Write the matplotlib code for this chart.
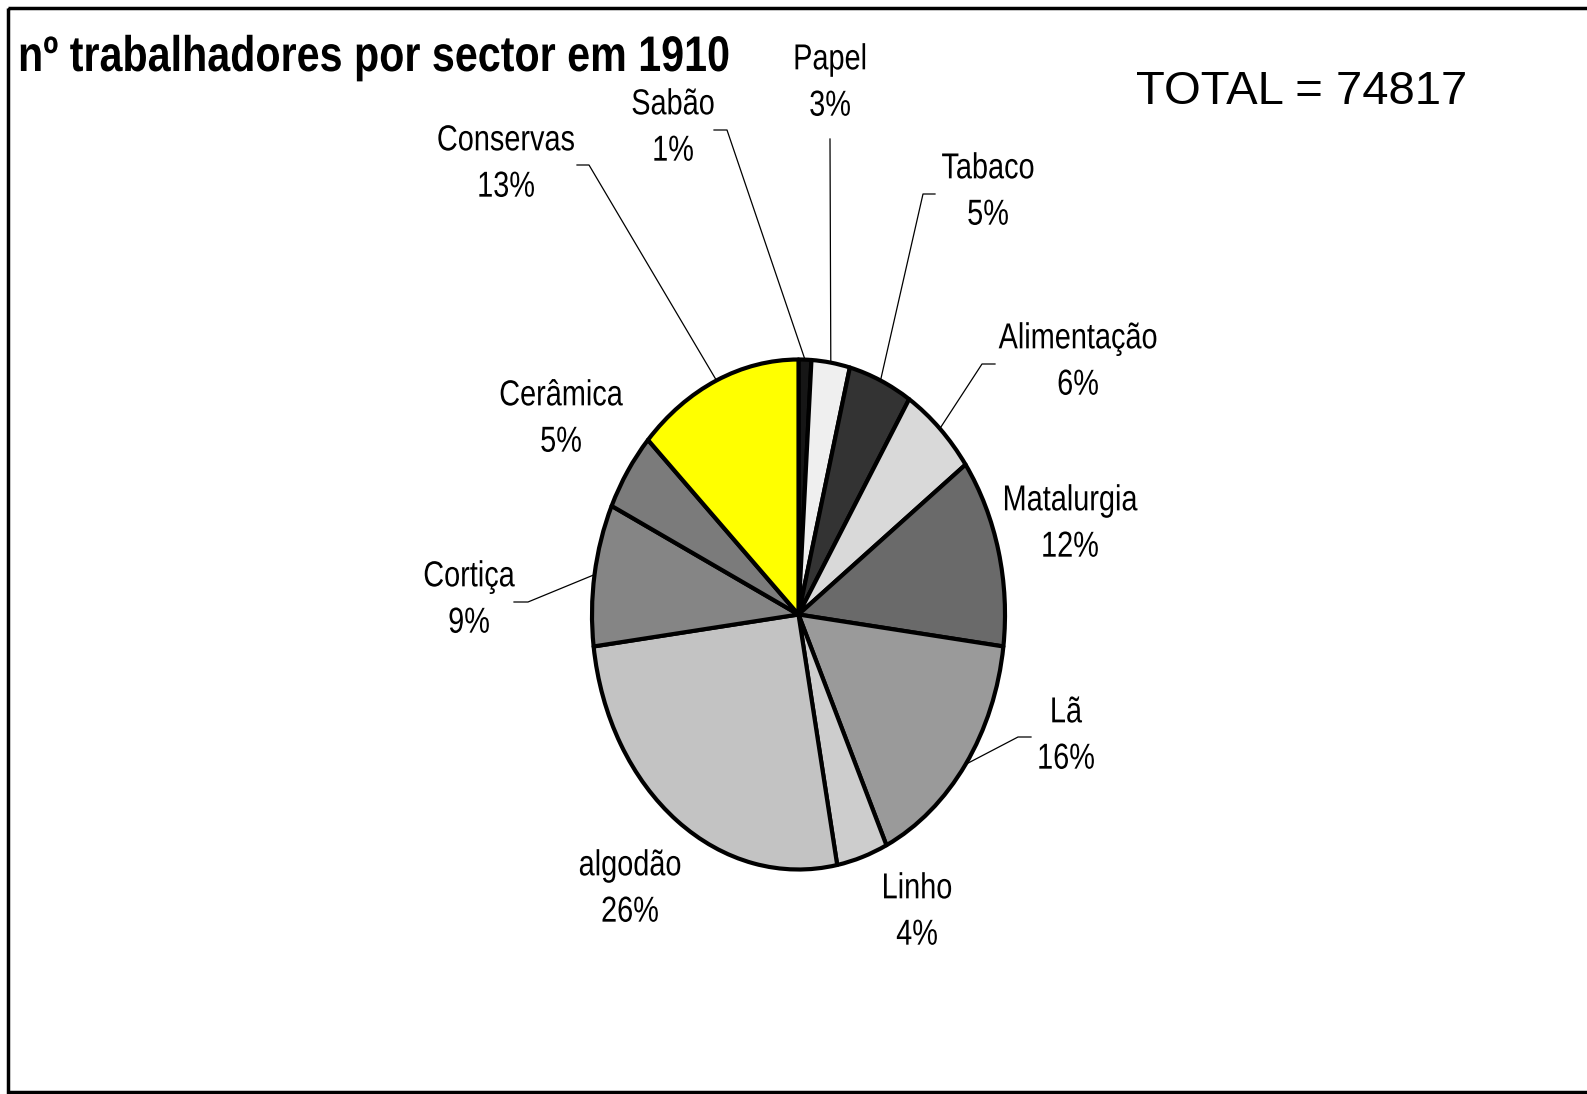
import numpy as np
import matplotlib
matplotlib.use("Agg")
import matplotlib.pyplot as plt
from matplotlib.lines import Line2D
from matplotlib.patches import Rectangle
from matplotlib.patheffects import AbstractPathEffect
from matplotlib.transforms import Affine2D

# Workers per industrial sector, 1910 (percent of total)
sectors = ["Sabão", "Papel", "Tabaco", "Alimentação", "Matalurgia", "Lã",
           "Linho", "algodão", "Cortiça", "Cerâmica", "Conservas"]
shares = [1, 3, 5, 6, 12, 16, 4, 26, 9, 5, 13]
total_workers = 74817
title = "nº trabalhadores por sector em 1910"

colors = ["#161616", "#efefef", "#333333", "#d9d9d9", "#6a6a6a", "#9a9a9a",
          "#cdcdcd", "#c3c3c3", "#858585", "#7b7b7b", "#ffff00"]

# label anchor (pixel coords, y down) and leader line start / knee
label_pos = [(673, 128), (830, 83), (988, 192), (1078, 362), (1070, 524),
             (1066, 736), (917, 912), (630, 889), (469, 600), (561, 419),
             (506, 164)]
leader_start = [(714, 130), (830, 139), (935, 194), (995, 364), None,
                (1031, 737), None, None, (514, 602), None, (577, 165)]
leader_knee = [(727, 130), None, (923, 194), (982, 364), None,
               (1018, 737), None, None, (528, 602), None, (589, 165)]


class Condensed(AbstractPathEffect):
    """Draw text glyphs squeezed horizontally about a fixed x (display px)."""

    def __init__(self, sx, x0):
        super().__init__()
        self.sx = sx
        self.x0 = x0

    def draw_path(self, renderer, gc, tpath, affine, rgbFace=None):
        squeeze = Affine2D().translate(-self.x0, 0).scale(self.sx, 1).translate(self.x0, 0)
        renderer.draw_path(gc, tpath, affine + squeeze, rgbFace)


W, H = 1587, 1094
fig = plt.figure(figsize=(W / 100, H / 100), dpi=100)
fig.patch.set_facecolor("white")

# overlay axes in pixel coordinates for text and leader lines
over = fig.add_axes([0, 0, 1, 1], zorder=3)
over.set_xlim(0, W)
over.set_ylim(H, 0)
over.axis("off")
over.patch.set_alpha(0)

# elliptical pie: unit circle stretched by its axes box
cx, cy, rx, ry = 798.5, 614.5, 206.5, 255
ax = fig.add_axes([(cx - rx) / W, (H - cy - ry) / H, 2 * rx / W, 2 * ry / H], zorder=2)
wedges, _ = ax.pie(shares, colors=colors, startangle=90, counterclock=False,
                   radius=1, wedgeprops=dict(edgecolor="black", linewidth=3.0,
                                             joinstyle="round"))
for w in wedges:
    w.set_clip_on(False)
ax.set_aspect("auto")
ax.set_xlim(-1, 1)
ax.set_ylim(-1, 1)
ax.axis("off")

font = ["Liberation Sans", "DejaVu Sans"]
to_over = over.transData.inverted()
for i, (name, pct) in enumerate(zip(sectors, shares)):
    x, y = label_pos[i]
    over.text(x, y, f"{name}\n{pct}%", ha="center", va="center",
              fontsize=26, family=font, linespacing=1.42, color="black",
              path_effects=[Condensed(0.80, x)])
    if leader_start[i] is not None:
        w = wedges[i]
        mid = np.deg2rad((w.theta1 + w.theta2) / 2)
        end = to_over.transform(ax.transData.transform((np.cos(mid), np.sin(mid))))
        pts = [leader_start[i]]
        if leader_knee[i] is not None:
            pts.append(leader_knee[i])
        pts.append(tuple(end))
        xs, ys = zip(*pts)
        over.add_line(Line2D(xs, ys, color="black", linewidth=0.9))

over.text(18, 58, title, ha="left", va="center", fontsize=36,
          fontweight="bold", family=font, color="black",
          path_effects=[Condensed(0.825, 18)])
over.text(1136, 92, f"TOTAL = {total_workers}", ha="left", va="center",
          fontsize=34, family=font, color="black")

# frame around the chart area
over.add_patch(Rectangle((8, 8), 1650, 1084, fill=False, edgecolor="black",
                         linewidth=2.5, clip_on=False))

fig.savefig("out.png", dpi=100, facecolor="white")
